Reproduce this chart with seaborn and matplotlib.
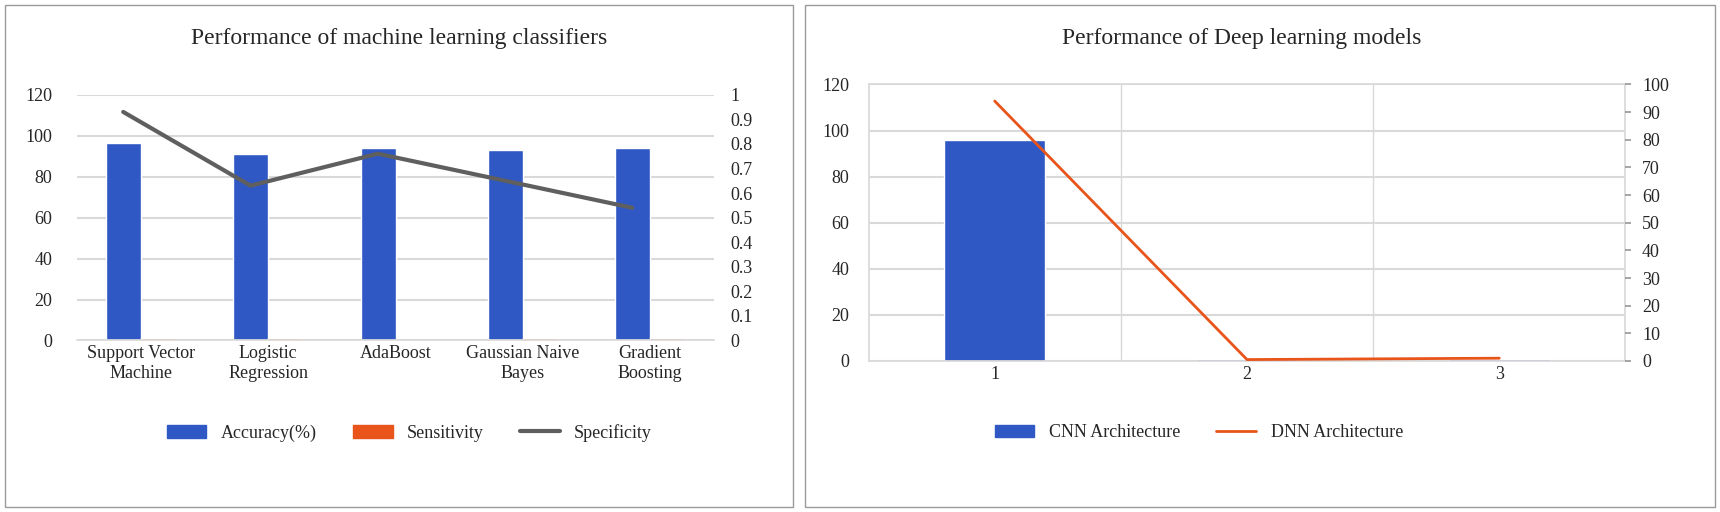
import matplotlib.pyplot as plt
import seaborn as sns
import numpy as np
import pandas as pd
from matplotlib.patches import Rectangle

# dados
ml_models = ['Support Vector\nMachine', 'Logistic\nRegression', 'AdaBoost', 'Gaussian Naive\nBayes', 'Gradient\nBoosting']
ml_accuracy = [96.5, 91, 94, 93, 94]
ml_sensitivity = [1.0, 1.0, 0.4, 1.0, 1.0]
ml_specificity = [0.93, 0.63, 0.76, 0.65, 0.54]

dl_labels = ['1', '2', '3']
dl_cnn = [96, 1, 1]
dl_dnn = [94, 0.5, 1]

sns.set_theme(style='white')
plt.rcParams['font.family'] = ['Liberation Serif', 'DejaVu Serif']

fig = plt.figure(figsize=(17.2, 5.12), dpi=100)
# bordas dos paineis
fig.add_artist(Rectangle((0.003, 0.01), 0.458, 0.98, transform=fig.transFigure, fill=False, ec='#9a9a9a', lw=1))
fig.add_artist(Rectangle((0.468, 0.01), 0.529, 0.98, transform=fig.transFigure, fill=False, ec='#9a9a9a', lw=1))

blue = '#2f58c4'
orange = '#e8541a'
grid_c = '#d9d9d9'

########################################################
# Painel esquerdo - classificadores
########################################################
ax1 = fig.add_axes([0.045, 0.335, 0.37, 0.48])
df_ml = pd.DataFrame({'modelo': ml_models * 2,
                      'valor': ml_accuracy + ml_sensitivity,
                      'serie': ['Accuracy(%)'] * 5 + ['Sensitivity'] * 5})
sns.barplot(data=df_ml, x='modelo', y='valor', hue='serie', palette=[blue, orange],
            ax=ax1, width=0.55, dodge=True, legend=False, saturation=1)
ax1.set_ylim(0, 120)
ax1.set_yticks(range(0, 121, 20))
ax1.yaxis.grid(True, color=grid_c, lw=1.5)
ax1.set_axisbelow(True)
for s in ax1.spines.values():
    s.set_visible(False)
ax1.spines['bottom'].set_visible(True)
ax1.spines['bottom'].set_color(grid_c)
ax1.set_xlabel('')
ax1.set_ylabel('')
ax1.tick_params(axis='both', labelsize=13, length=0)
ax1.tick_params(axis='y', pad=18)
ax1.set_xlim(-0.5, 4.5)

ax1b = ax1.twinx()
sns.lineplot(x=np.arange(5) - 0.14, y=ml_specificity, ax=ax1b, color='#5f5f5f', lw=3)
ax1b.set_ylim(0, 1)
ax1b.set_yticks(np.arange(0, 1.01, 0.1))
ax1b.set_yticklabels(['0', '0.1', '0.2', '0.3', '0.4', '0.5', '0.6', '0.7', '0.8', '0.9', '1'])
for s in ax1b.spines.values():
    s.set_visible(False)
ax1b.tick_params(axis='y', labelsize=13, length=0, pad=12)
ax1b.set_xlim(-0.5, 4.5)
fig.text(0.232, 0.915, 'Performance of machine learning classifiers', ha='center', fontsize=17)

h = [Rectangle((0, 0), 1, 1, color=blue), Rectangle((0, 0), 1, 1, color=orange),
     plt.Line2D([], [], color='#5f5f5f', lw=3)]
fig.legend(h, ['Accuracy(%)', 'Sensitivity', 'Specificity'], loc='center', ncol=3,
           bbox_to_anchor=(0.238, 0.155), frameon=False, fontsize=13, handlelength=2.2)

########################################################
# Painel direito - deep learning
########################################################
ax2 = fig.add_axes([0.505, 0.295, 0.44, 0.54])
sns.barplot(x=dl_labels, y=dl_cnn, color=blue, ax=ax2, width=0.4, saturation=1)
ax2.set_ylim(0, 120)
ax2.set_yticks(range(0, 121, 20))
ax2.yaxis.grid(True, color=grid_c, lw=1.5)
ax2.set_axisbelow(True)
for x in [0.5, 1.5]:
    ax2.axvline(x, color=grid_c, lw=1, zorder=0)
for s in ax2.spines.values():
    s.set_color(grid_c)
ax2.tick_params(axis='both', labelsize=13, length=0)
ax2.tick_params(axis='y', pad=14)
ax2.set_xlim(-0.5, 2.5)

ax2b = ax2.twinx()
sns.lineplot(x=np.arange(3), y=dl_dnn, ax=ax2b, color=orange, lw=2)
ax2b.set_ylim(0, 100)
ax2b.set_yticks(range(0, 101, 10))
for s in ax2b.spines.values():
    s.set_visible(False)
ax2b.tick_params(axis='y', labelsize=13, length=4, color='#9a9a9a', pad=8)
ax2b.set_xlim(-0.5, 2.5)
fig.text(0.722, 0.915, 'Performance of Deep learning models', ha='center', fontsize=17)

h2 = [Rectangle((0, 0), 1, 1, color=blue), plt.Line2D([], [], color=orange, lw=2)]
fig.legend(h2, ['CNN Architecture', 'DNN Architecture'], loc='center', ncol=2,
           bbox_to_anchor=(0.697, 0.155), frameon=False, fontsize=13, handlelength=2.2)

fig.savefig('out.png', dpi=100)
